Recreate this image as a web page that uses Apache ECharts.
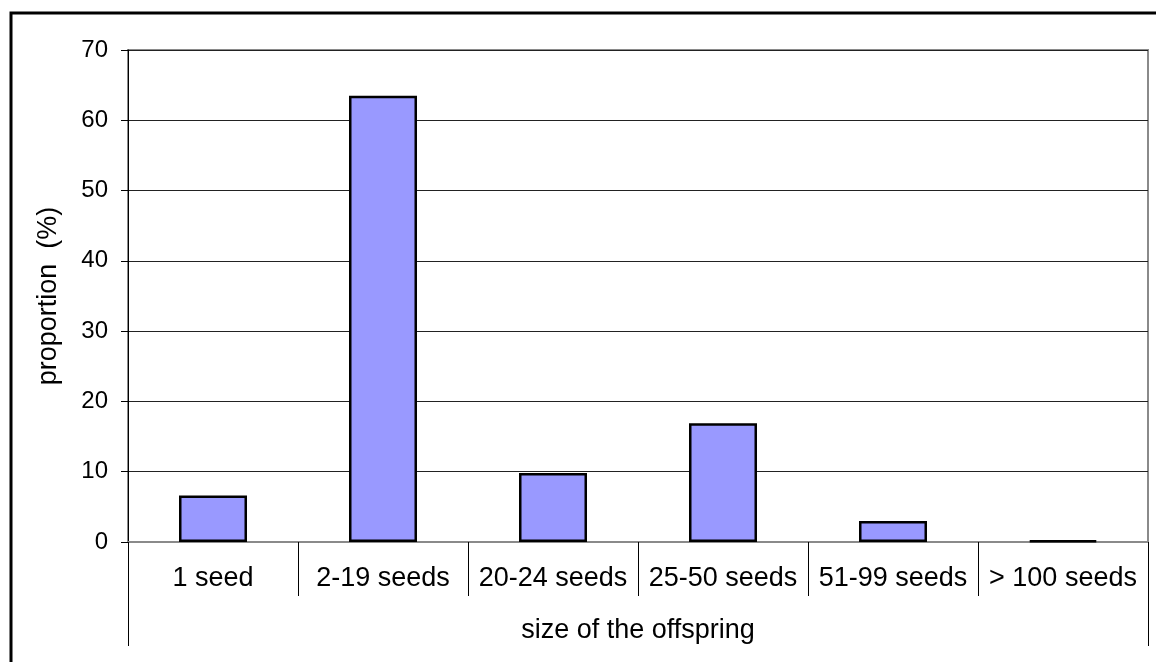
<!DOCTYPE html>
<html>
<head>
<meta charset="utf-8">
<script src="https://cdn.jsdelivr.net/npm/echarts@6/dist/echarts.min.js"></script>
<style>
html,body{margin:0;padding:0;background:#fff;}
#chart{width:1156px;height:662px;}
</style>
</head>
<body>
<div id="chart"></div>
<script>
const categories = ['1 seed', '2-19 seeds', '20-24 seeds', '25-50 seeds', '51-99 seeds', '> 100 seeds'];
const proportion = [6.6, 63.5, 9.8, 16.9, 3.0, 0.2];
const groupLabel = ['size of the offspring'];
const yTicks = { min: 0, max: 70, interval: 10 };

const FONT = 'Liberation Sans, Arial, sans-serif';
const chart = echarts.init(document.getElementById('chart'), null, { renderer: 'canvas' });
chart.setOption({
  backgroundColor: '#fff',
  animation: false,
  graphic: [{
    type: 'rect',
    shape: { x: 11, y: 13, width: 1300, height: 800 },
    style: { fill: 'none', stroke: '#000', lineWidth: 3 },
    silent: true
  }],
  grid: {
    left: 128, top: 50, right: 8, bottom: 120,
    show: true, borderColor: '#8a8a8a', borderWidth: 2, backgroundColor: 'transparent'
  },
  xAxis: [{
    type: 'category',
    data: categories,
    position: 'bottom',
    axisLine: { show: true, lineStyle: { color: '#8a8a8a', width: 2 } },
    axisTick: { show: true, length: 54, lineStyle: { color: '#000', width: 1 } },
    axisLabel: { color: '#000', fontSize: 27, fontFamily: FONT, margin: 23, interval: 0 },
    splitLine: { show: false }
  }, {
    type: 'category',
    data: groupLabel,
    position: 'bottom',
    offset: 0,
    axisLine: { show: false },
    axisTick: { show: true, length: 104, interval: 0, lineStyle: { color: '#000', width: 1 } },
    axisLabel: { color: '#000', fontSize: 27, fontFamily: FONT, margin: 75 },
    splitLine: { show: false }
  }],
  yAxis: {
    type: 'value',
    min: yTicks.min, max: yTicks.max, interval: yTicks.interval,
    name: 'proportion  (%)',
    nameLocation: 'middle',
    nameGap: 66,
    nameTextStyle: { color: '#000', fontSize: 27, fontFamily: FONT },
    axisLine: { show: true, lineStyle: { color: '#000', width: 1 } },
    axisTick: { show: true, length: 7, lineStyle: { color: '#000' } },
    axisLabel: { color: '#000', fontSize: 24, fontFamily: FONT, margin: 20 },
    splitLine: { show: true, lineStyle: { color: '#222', width: 1 } }
  },
  series: [{
    type: 'bar',
    xAxisIndex: 0,
    data: proportion,
    barWidth: '40%',
    itemStyle: { color: '#9999FF', borderColor: '#000', borderWidth: 2.5 }
  }]
});
</script>
</body>
</html>
